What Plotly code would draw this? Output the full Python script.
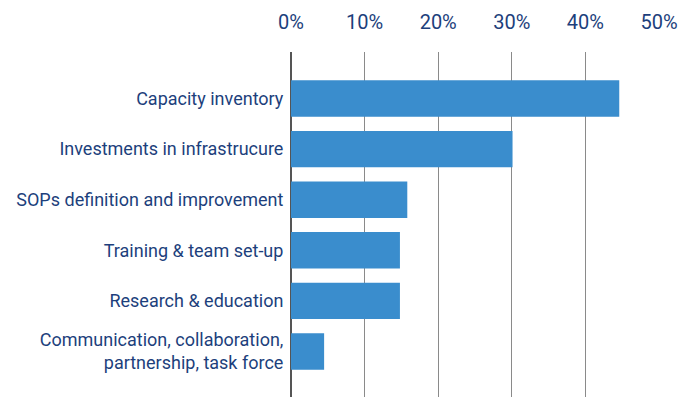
import plotly.graph_objects as go

categories = [
    "Capacity inventory",
    "Investments in infrastrucure",
    "SOPs definition and improvement",
    "Training & team set-up",
    "Research & education",
    "Communication, collaboration,<br>partnership, task force",
]
shares = [44.6, 30.1, 15.8, 14.8, 14.8, 4.5]
tick_vals = [0, 10, 20, 30, 40, 50]
tick_text = ["0%", "10%", "20%", "30%", "40%", "50%"]

text_color = "#1d3f7c"
font_family = "Roboto, sans-serif"

fig = go.Figure()
fig.add_trace(go.Bar(
    x=shares,
    y=list(range(len(categories))),
    orientation="h",
    width=0.72,
    marker=dict(color="#3a8dcd", line=dict(width=0)),
))

# page body has an 8px margin, so the figure is a bit smaller than the window
fig.update_layout(
    width=689,
    height=389,
    margin=dict(l=283, r=38, t=44, b=0),
    plot_bgcolor="white",
    paper_bgcolor="white",
    showlegend=False,
    font=dict(family=font_family, size=18, color=text_color),
    xaxis=dict(
        side="top",
        range=[0, 50],
        tickvals=tick_vals,
        ticktext=tick_text,
        showgrid=True,
        gridcolor="#8a8a8a",
        gridwidth=1,
        zeroline=True,
        zerolinecolor="#555555",
        zerolinewidth=2,
        ticks="outside",
        ticklen=14,
        tickcolor="white",
        tickfont=dict(size=20, color=text_color),
        automargin=False,
        fixedrange=True,
    ),
    yaxis=dict(
        range=[5.9, -0.92],
        tickvals=list(range(len(categories))),
        ticktext=categories,
        showgrid=False,
        zeroline=False,
        ticks="outside",
        ticklen=3,
        tickcolor="white",
        tickfont=dict(size=18, color=text_color),
        automargin=False,
        fixedrange=True,
    ),
)

fig.write_html("out.html")
